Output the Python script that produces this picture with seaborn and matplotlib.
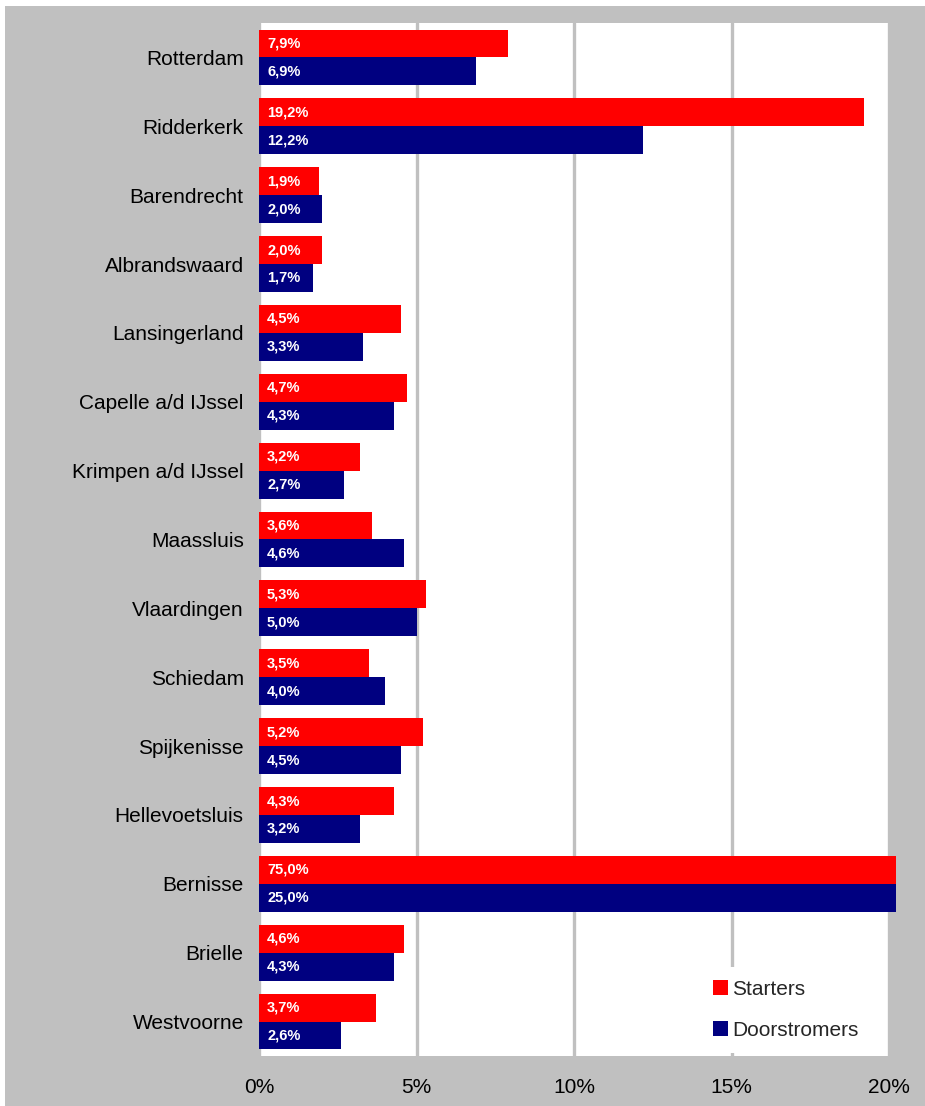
import matplotlib
matplotlib.use("Agg")
import matplotlib.pyplot as plt
import matplotlib.patches as mpatches
import matplotlib.transforms as mtransforms
import numpy as np
import pandas as pd
import seaborn as sns

gemeenten = [
    "Rotterdam", "Ridderkerk", "Barendrecht", "Albrandswaard", "Lansingerland",
    "Capelle a/d IJssel", "Krimpen a/d IJssel", "Maassluis", "Vlaardingen",
    "Schiedam", "Spijkenisse", "Hellevoetsluis", "Bernisse", "Brielle", "Westvoorne",
]
starters = [7.9, 19.2, 1.9, 2.0, 4.5, 4.7, 3.2, 3.6, 5.3, 3.5, 5.2, 4.3, 75.0, 4.6, 3.7]
doorstromers = [6.9, 12.2, 2.0, 1.7, 3.3, 4.3, 2.7, 4.6, 5.0, 4.0, 4.5, 3.2, 25.0, 4.3, 2.6]
series = ["Starters", "Doorstromers"]
colors = ["#FF0000", "#000080"]
x_ticks = [0, 5, 10, 15, 20]
x_ticklabels = ["0%", "5%", "10%", "15%", "20%"]

df = pd.DataFrame({
    "gemeente": gemeenten * 2,
    "serie": [series[0]] * len(gemeenten) + [series[1]] * len(gemeenten),
    "waarde": starters + doorstromers,
})

sns.set_theme(style="white")
plt.rcParams["font.family"] = ["Liberation Sans", "DejaVu Sans"]

W, H = 925, 1106
fig = plt.figure(figsize=(W / 100, H / 100), dpi=100, facecolor="white")
# grey backdrop leaving a thin white margin at the top and left
fig.patches.append(mpatches.Rectangle((5 / W, 0), 1, 1 - 6 / H, transform=fig.transFigure,
                                      facecolor="#C0C0C0", edgecolor="none", zorder=-10))

left, right, top, bottom = 259, 889, 23, 1056
ax = fig.add_axes([left / W, 1 - bottom / H, (right - left) / W, (bottom - top) / H])
ax.set_facecolor("white")

sns.barplot(data=df, y="gemeente", x="waarde", hue="serie", order=gemeenten,
            hue_order=series, palette=colors, orient="h", width=0.81,
            saturation=1, dodge=True, ax=ax, legend=False, zorder=3)

ax.set_xlim(0, 20)
ax.set_ylim(len(gemeenten) - 0.5, -0.5)

# bars beyond the axis end are cut off just past the right edge
clip = mpatches.Rectangle((0, 0), 1 + 7 / (right - left), 1, transform=ax.transAxes,
                          facecolor="none", edgecolor="none")
ax.add_patch(clip)
lab_tr = mtransforms.blended_transform_factory(ax.transAxes, ax.transData)
for p in ax.patches:
    if p is clip:
        continue
    p.set_clip_path(clip)
    p.set_edgecolor("none")
    v = p.get_width()
    if v <= 0:
        continue
    yc = p.get_y() + p.get_height() / 2
    txt = f"{v:.1f}".replace(".", ",") + "%"
    ax.text(8 / (right - left), yc, txt, transform=lab_tr, ha="left", va="center",
            color="white", fontsize=10.5, fontweight="bold", zorder=5)

ax.set_xticks(x_ticks)
ax.set_xticklabels(x_ticklabels)
ax.grid(axis="x", color="#C0C0C0", linewidth=2.4, zorder=0)
ax.grid(axis="y", visible=False)
ax.set_axisbelow(True)
ax.tick_params(axis="x", length=0, pad=16, labelsize=15, colors="black")
ax.tick_params(axis="y", length=0, pad=11, labelsize=15, colors="black")
ax.set_xlabel("")
ax.set_ylabel("")
for s in ax.spines.values():
    s.set_visible(False)

handles = [mpatches.Patch(facecolor=c, edgecolor="none", label=s) for s, c in zip(series, colors)]
leg = ax.legend(handles=handles, loc="upper left",
                bbox_to_anchor=(700 / W, 1 - 967 / H), bbox_transform=fig.transFigure,
                fontsize=15, frameon=True, facecolor="white", edgecolor="none",
                framealpha=1, fancybox=False, borderpad=0.62, labelspacing=1.05,
                handlelength=0.72, handleheight=0.68, handletextpad=0.22,
                borderaxespad=0)
leg.set_zorder(6)

fig.savefig("out.png", dpi=100, facecolor=fig.get_facecolor())
